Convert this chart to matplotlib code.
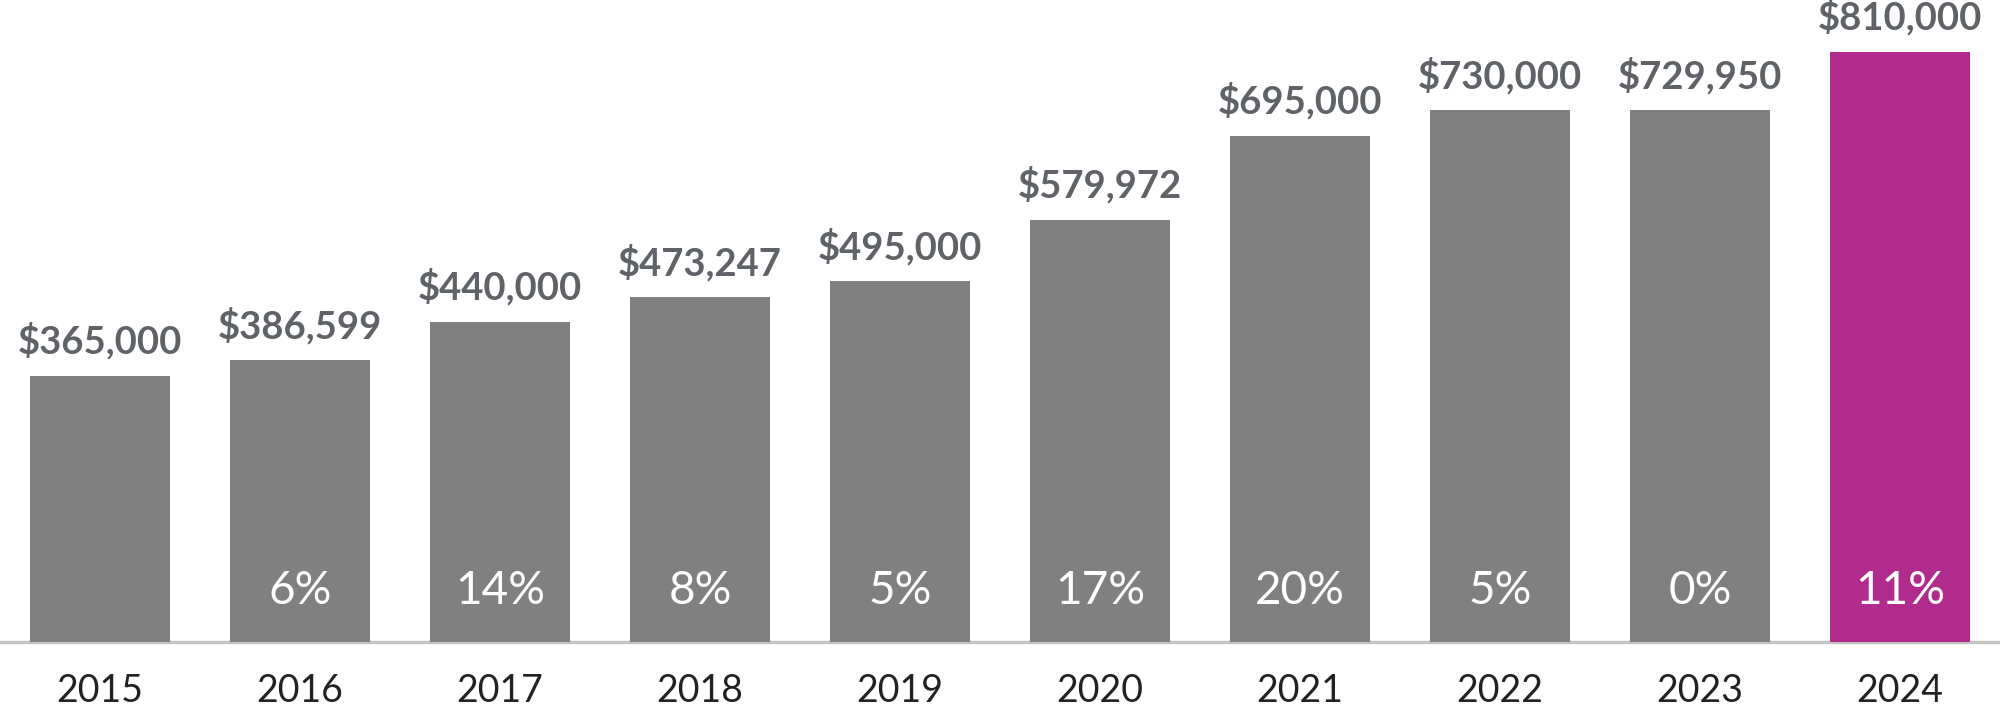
import matplotlib.pyplot as plt
import numpy as np

# dane
years = ['2015', '2016', '2017', '2018', '2019', '2020', '2021', '2022', '2023', '2024']
prices = [365000, 386599, 440000, 473247, 495000, 579972, 695000, 730000, 729950, 810000]
changes = ['', '6%', '14%', '8%', '5%', '17%', '20%', '5%', '0%', '11%']
colors = ['#808080'] * 9 + ['#b12b8c']

plt.rcParams['font.family'] = ['Lato', 'DejaVu Sans']

fig = plt.figure(figsize=(20, 7.13), dpi=100)
ax = fig.add_axes([0, 0.0996, 1, 0.9004])

x = np.arange(len(years))
ax.bar(x, prices, width=0.7, color=colors, zorder=2)

for i, v in enumerate(prices):
    ax.annotate('${:,}'.format(v), (i, v), xytext=(0, 16), textcoords='offset points',
                ha='center', va='baseline', fontsize=27.5, fontweight='bold', color='#5f6368')
    if changes[i]:
        ax.annotate(changes[i], (i, 0), xytext=(0, 27), textcoords='offset points',
                    ha='center', va='baseline', fontsize=33, color='white')

ax.set_xlim(-0.5, len(years) - 0.5)
ax.set_ylim(0, 881400)
ax.set_xticks(x)
ax.set_xticklabels(years, fontsize=27, color='#222222')
ax.tick_params(axis='x', length=0, pad=22)
ax.set_yticks([])
for s in ['top', 'right', 'left']:
    ax.spines[s].set_visible(False)
ax.spines['bottom'].set_color('#c4c4c4')
ax.spines['bottom'].set_linewidth(2.5)
ax.spines['bottom'].set_zorder(1)

plt.savefig('out.png', dpi=100)
